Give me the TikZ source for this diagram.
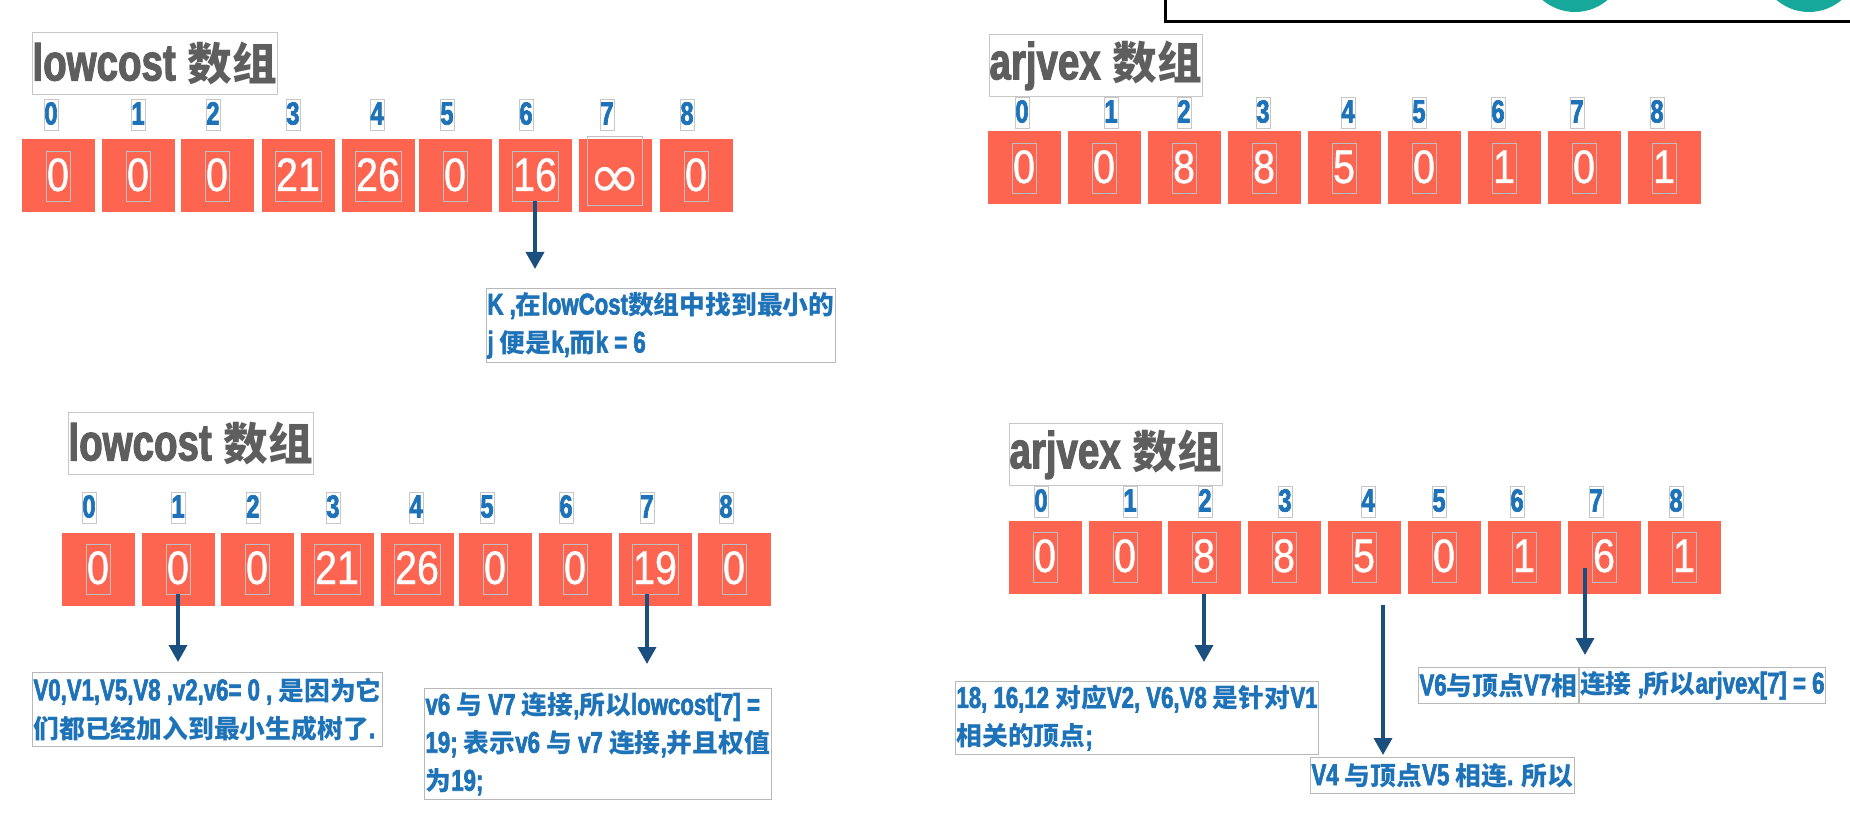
\documentclass[tikz,border=0pt]{standalone}
\usepackage{fontspec}
\setmainfont{Liberation Sans}
\newfontfamily\cond[FakeStretch=0.74,FakeBold=2]{Liberation Sans Bold}
\newfontfamily\numfont[FakeStretch=0.84,FakeBold=0.8]{Liberation Sans}
\newfontfamily\cjk[Scale=0.86]{Noto Sans CJK SC}
\newfontfamily\symfont{DejaVu Sans}
\newcommand\zh[1]{{\cjk\bfseries #1}}
\usetikzlibrary{arrows.meta,positioning,calc}
\definecolor{cellred}{HTML}{FD6551}
\definecolor{txtblue}{HTML}{1D72B8}
\definecolor{arrowblue}{HTML}{1B4F7F}
\definecolor{titlegrey}{HTML}{5E5E5E}
\definecolor{circteal}{HTML}{16A89A}
\tikzset{
  cell/.style  ={fill=cellred, minimum size=73pt, inner sep=0pt},
  num/.style   ={draw=black!25, line width=0.8pt, inner xsep=1pt, inner ysep=2pt,
                 text height=38pt, text depth=8pt, text=white,
                 font=\numfont\fontsize{47}{50}\selectfont},
  infnum/.style={num, minimum width=44pt, minimum height=69pt, yshift=5pt,
                 text height=55pt, text depth=0pt, font=\symfont\fontsize{64}{64}\selectfont},
  idx/.style   ={draw=black!22, line width=0.8pt, inner xsep=0.5pt, inner ysep=1pt,
                 text height=24pt, text depth=5pt, text=txtblue,
                 font=\cond\fontsize{32}{36}\selectfont},
  ttl/.style   ={draw=black!22, line width=1pt, inner sep=0pt, minimum height=62pt,
                 anchor=north west, text=titlegrey,
                 font=\cond\fontsize{52}{60}\selectfont},
  note/.style  ={draw=black!28, line width=1pt, fill=white, inner xsep=1pt, inner ysep=0pt,
                 align=left, anchor=north west, text=txtblue,
                 font=\cond\fontsize{30}{38}\selectfont},
  ar/.style    ={-{Triangle[length=17pt,width=18pt]}, draw=arrowblue, line width=3.5pt},
}
\begin{document}
\begin{tikzpicture}[x=1pt, y=-1pt]
\useasboundingbox[fill=white] (0,0) rectangle (1850,818);
% window cut off at the top edge
\draw[line width=3pt] (1165.5,-20) rectangle (1900,21.5);
\fill[circteal] (1575,-38) circle[radius=50pt];
\fill[circteal] (1809,-38) circle[radius=50pt];

% lowcost, first step
\node[ttl, minimum width=243pt] (tlt) at (32,32) {lowcost\hspace{12pt}\zh{数组}};
\foreach \x/\v/\s [count=\i from 0] in {58/0/num,138/0/num,217/0/num,298/21/num,378/26/num,455/0/num,535/16/num,615/∞/infnum,696/0/num}{
  \node[cell] (tl\i) at (\x,176) {};
  \node[\s] (tlv\i) at (tl\i) {\v};
}
\foreach \x [count=\i from 0] in {51,138,213,293,377,447,526,607,687}
  \node[idx] (tli\i) at (\x,115) {\i};
\node[note, minimum width=345pt, minimum height=74pt] (knote) at (486,288)
  {K ,\zh{在}lowCost\zh{数组中找到最小的}\\j \zh{便是}k,\zh{而}k = 6};
\draw[ar, shorten >=19pt] (tlv6.south) -- (tlv6.south |- knote.north);

% arjvex, first step
\node[ttl, minimum width=212pt] (trt) at (989,34) {arjvex\hspace{12pt}\zh{数组}};
\foreach \x/\v [count=\i from 0] in {1024/0,1104/0,1184/8,1264/8,1344/5,1424/0,1504/1,1584/0,1664/1}{
  \node[cell] (tr\i) at (\x,168) {};
  \node[num] (trv\i) at (tr\i) {\v};
}
\foreach \x [count=\i from 0] in {1022,1111,1184,1263,1348,1419,1498,1577,1657}
  \node[idx] (tri\i) at (\x,113) {\i};

% lowcost, next step
\node[ttl, minimum width=244pt] (blt) at (68,412) {lowcost\hspace{12pt}\zh{数组}};
\foreach \x/\v [count=\i from 0] in {98/0,178/0,257/0,337/21,417/26,495/0,575/0,655/19,734/0}{
  \node[cell] (bl\i) at (\x,569) {};
  \node[num] (blv\i) at (bl\i) {\v};
}
\foreach \x [count=\i from 0] in {89,178,253,333,416,487,566,647,726}
  \node[idx] (bli\i) at (\x,508) {\i};
\node[note, minimum width=344pt, minimum height=74pt] (note1) at (32,672)
  {V0,V1,V5,V8 ,v2,v6= 0 , \zh{是因为它}\\\zh{们都已经加入到最小生成树了}.};
\node[note, minimum width=336pt, minimum height=111pt] (note2) at (424,688)
  {v6 \zh{与} V7 \zh{连接},\zh{所以}lowcost[7] =\\19; \zh{表示}v6 \zh{与} v7 \zh{连接},\zh{并且权值}\\\zh{为}19;};
\coordinate (s7) at ([xshift=-8pt]blv7.south);
\draw[ar, shorten >=10pt] (blv1.south) -- (blv1.south |- note1.north);
\draw[ar, shorten >=24pt] (s7) -- (s7 |- note2.north);

% arjvex, next step
\node[ttl, minimum width=212pt] (brt) at (1009,423) {arjvex\hspace{12pt}\zh{数组}};
\foreach \x/\v [count=\i from 0] in {1045/0,1125/0,1204/8,1284/8,1364/5,1444/0,1524/1,1604/6,1684/1}{
  \node[cell] (br\i) at (\x,557) {};
  \node[num] (brv\i) at (br\i) {\v};
}
\foreach \x [count=\i from 0] in {1041,1130,1205,1285,1368,1439,1517,1596,1676}
  \node[idx] (bri\i) at (\x,502) {\i};
\node[note, minimum width=350pt, minimum height=73pt] (noteA) at (955,681)
  {18, 16,12 \zh{对应}V2, V6,V8 \zh{是针对}V1\\\zh{相关的顶点};};
\node[note, minimum width=256pt, minimum height=36pt] (noteB) at (1310,757)
  {V4 \zh{与顶点}V5 \zh{相连}. \zh{所以}};
\node[note, minimum width=156pt, minimum height=36pt] (noteC1) at (1418,667)
  {V6\zh{与顶点}V7\zh{相}};
\node[note, minimum width=244pt, minimum height=36pt, right=0pt of noteC1] (noteC2)
  {\zh{连接} ,\zh{所以}arjvex[7] = 6};
\coordinate (s4) at ([xshift=19pt,yshift=-11pt]br4.south);
\coordinate (c7) at ([xshift=-19pt,yshift=-11pt]br7.center);
\draw[ar, shorten >=19pt] (br2.south) -- (br2.south |- noteA.north);
\draw[ar, shorten >=2pt] (s4) -- (s4 |- noteB.north);
\draw[ar, shorten >=12pt] (c7) -- (c7 |- noteC1.north);
\end{tikzpicture}
\end{document}
